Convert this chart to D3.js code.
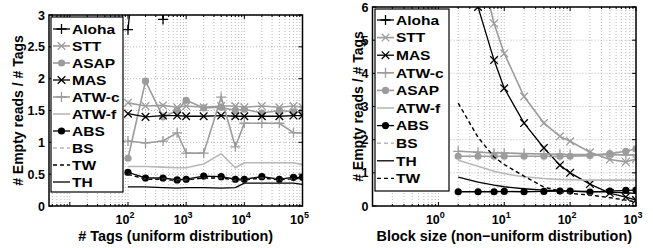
<!DOCTYPE html>
<html><head><meta charset="utf-8">
<script src="https://cdn.jsdelivr.net/npm/d3@7"></script>
<style>body{margin:0;background:#fff}svg{display:block}text{font-family:"Liberation Sans",Arial,Helvetica,sans-serif;font-weight:bold}</style>
</head><body><svg id="c" width="653" height="248"></svg>
<script>
// ---------- data ----------
const leftX = [100,200,400,700,1000,2000,4000,7000,10000,20000,40000,70000,100000];
const leftAloha = [2.77,5.5,2.93,5.5,6,6,6,6,6,6,6,6,6];
const leftSTT   = [1.62,1.57,1.58,1.55,1.57,1.55,1.57,1.57,1.55,1.57,1.55,1.57,1.55];
const leftASAP  = [0.75,1.96,1.40,1.50,1.66,1.54,1.55,1.50,1.52,1.46,1.50,1.48,1.48];
const leftMAS   = [1.45,1.40,1.42,1.42,1.41,1.41,1.42,1.41,1.41,1.41,1.41,1.42,1.42];
const leftATWc  = [1.02,0.99,1.02,1.15,0.83,0.83,1.71,0.93,1.30,1.30,1.30,1.15,1.15];
const leftATWf  = [0.62,0.62,0.61,0.60,0.60,0.66,0.82,0.60,0.68,0.68,0.68,0.68,0.65];
const leftABS   = [0.53,0.44,0.44,0.41,0.42,0.47,0.46,0.42,0.42,0.46,0.42,0.45,0.45];
const leftBS    = [0.50,0.42,0.42,0.40,0.41,0.44,0.44,0.41,0.41,0.44,0.41,0.43,0.43];
const leftTW    = [0.50,0.42,0.42,0.40,0.41,0.44,0.44,0.41,0.41,0.44,0.41,0.43,0.43];
const leftTH    = [0.30,0.30,0.29,0.28,0.29,0.29,0.28,0.29,0.36,0.36,0.36,0.36,0.34];
const leftYTicks = [0,0.5,1,1.5,2,2.5,3];
const leftXTicks = [2,3,4,5];  // exponents
const leftOrder = ["Aloha","STT","ASAP","MAS","ATW-c","ATW-f","ABS","BS","TW","TH"];

const rightX = [2,4,7,10,20,40,70,100,200,400,700,1000];
const rightAloha = [30,25,20,18,15,12,10,9,8,7.5,7,6.8];
const rightSTT   = [9.5,7.5,5.5,4.6,3.3,2.5,2.1,1.95,1.62,1.40,1.33,1.42];
const rightMAS   = [8.5,6.0,4.4,3.55,2.5,1.75,1.23,1.0,0.66,0.39,0.27,0.18];
const rightATWc  = [1.65,1.62,1.60,1.60,1.58,1.57,1.56,1.55,1.55,1.55,1.54,1.54];
const rightASAP  = [1.50,1.50,1.50,1.50,1.50,1.50,1.50,1.50,1.52,1.58,1.65,1.72];
const rightATWf  = [1.38,1.20,1.05,0.97,0.88,0.83,0.80,0.79,0.78,0.78,0.78,0.78];
const rightABS   = [0.43,0.43,0.43,0.44,0.43,0.44,0.45,0.45,0.42,0.45,0.47,0.48];
const rightBS    = [3.1,2.07,1.48,1.25,0.90,0.57,0.45,0.38,0.33,0.25,0.18,0.12];
const rightTH    = [0.87,0.72,0.63,0.58,0.52,0.48,0.46,0.45,0.44,0.42,0.40,0.38];
const rightTW    = [3.1,2.07,1.48,1.25,0.90,0.57,0.45,0.38,0.33,0.25,0.18,0.12];
const rightYTicks = [0,1,2,3,4,5,6];
const rightXTicks = [0,1,2,3];
const rightOrder = ["Aloha","STT","MAS","ATW-c","ASAP","ATW-f","ABS","BS","TH","TW"];

// ---------- styles ----------
const GRAY = "#9c9c9c", LGRAY = "#b8b8b8";
const style = {
  "Aloha": {color:"#000", marker:"plus", dash:null, w:1.3},
  "STT":   {color:GRAY, marker:"x", dash:null, w:1.6},
  "ASAP":  {color:GRAY, marker:"circle", dash:null, w:1.6},
  "MAS":   {color:"#000", marker:"x", dash:null, w:1.3},
  "ATW-c": {color:GRAY, marker:"plus", dash:null, w:1.6},
  "ATW-f": {color:LGRAY, marker:null, dash:null, w:1.6},
  "ABS":   {color:"#000", marker:"circle", dash:null, w:1.3},
  "BS":    {color:LGRAY, marker:null, dash:"4,3", w:1.4},
  "TW":    {color:"#000", marker:null, dash:"4,3", w:1.3},
  "TH":    {color:"#000", marker:null, dash:null, w:1.3}
};

const svg = d3.select("#c");

function drawMarker(g, type, x, y, color){
  if(type==="plus"){
    const s=5;
    g.append("path").attr("d",`M${x-s},${y}H${x+s}M${x},${y-s}V${y+s}`).attr("stroke",color).attr("stroke-width",1.3).attr("fill","none");
  } else if(type==="x"){
    const s=3.8;
    g.append("path").attr("d",`M${x-s},${y-s}L${x+s},${y+s}M${x-s},${y+s}L${x+s},${y-s}`).attr("stroke",color).attr("stroke-width",1.3).attr("fill","none");
  } else if(type==="circle"){
    g.append("circle").attr("cx",x).attr("cy",y).attr("r",3.6).attr("fill",color);
  }
}

function panel(cfg){
  const {id, xs, series, order, xDom, xRange, yDom, yRange, yTicks, xExps, yFmt, xLabel, yLabelX, legend} = cfg;
  const x = d3.scaleLog().domain(xDom).range(xRange);
  const y = d3.scaleLinear().domain(yDom).range(yRange);
  const g = svg.append("g");
  const [x0,x1] = xRange, [yb,yt] = yRange;

  // grid
  const gridG = g.append("g").attr("stroke","#a8a8a8").attr("stroke-width",0.8).attr("stroke-dasharray","1,2");
  const minorX = [];
  const lo = Math.floor(Math.log10(xDom[0])), hi = Math.ceil(Math.log10(xDom[1]));
  for(let e=lo;e<=hi;e++) for(let m=1;m<10;m++){ const v=m*Math.pow(10,e); if(v>=xDom[0]&&v<=xDom[1]) minorX.push(v); }
  minorX.forEach(v=>gridG.append("line").attr("x1",x(v)).attr("x2",x(v)).attr("y1",yb).attr("y2",yt));
  yTicks.forEach(v=>gridG.append("line").attr("x1",x0).attr("x2",x1).attr("y1",y(v)).attr("y2",y(v)));

  // clip
  svg.append("clipPath").attr("id","clip"+id).append("rect").attr("x",x0).attr("y",yt).attr("width",x1-x0).attr("height",yb-yt);
  const plot = g.append("g").attr("clip-path",`url(#clip${id})`);
  const line = d3.line().x((d,i)=>x(xs[i])).y(d=>y(d));
  order.forEach(name=>{
    const st = style[name], vals = series[name];
    const sg = plot.append("g");
    sg.append("path").attr("d",line(vals)).attr("fill","none").attr("stroke",st.color)
      .attr("stroke-width",st.w).attr("stroke-dasharray",st.dash);
    if(st.marker) vals.forEach((v,i)=>drawMarker(sg, st.marker, x(xs[i]), y(v), st.color));
  });

  // box + ticks
  g.append("rect").attr("x",x0).attr("y",yt).attr("width",x1-x0).attr("height",yb-yt).attr("fill","none").attr("stroke","#000").attr("stroke-width",1.5);
  const tk = g.append("g").attr("stroke","#000").attr("stroke-width",1);
  yTicks.forEach(v=>{
    tk.append("line").attr("x1",x0).attr("x2",x0+4).attr("y1",y(v)).attr("y2",y(v));
    tk.append("line").attr("x1",x1).attr("x2",x1-4).attr("y1",y(v)).attr("y2",y(v));
  });
  minorX.forEach(v=>{
    const major = Math.abs(Math.log10(v)-Math.round(Math.log10(v)))<1e-9;
    const L = major?4:2;
    tk.append("line").attr("x1",x(v)).attr("x2",x(v)).attr("y1",yb).attr("y2",yb-L);
    tk.append("line").attr("x1",x(v)).attr("x2",x(v)).attr("y1",yt).attr("y2",yt+L);
  });

  // tick labels
  yTicks.forEach(v=>g.append("text").attr("x",x0-4).attr("y",y(v)).attr("dy","0.36em").attr("text-anchor","end").attr("font-size",12.5).text(yFmt(v)));
  xExps.forEach(e=>{
    const t = g.append("text").attr("x",x(Math.pow(10,e))-3).attr("y",yb+17.5).attr("text-anchor","middle").attr("font-size",12.5);
    t.append("tspan").text("10");
    t.append("tspan").attr("dy",-6).attr("font-size",9).text(String(e));
  });
  // axis labels
  g.append("text").attr("x",(x0+x1)/2).attr("y",240.5).attr("text-anchor","middle").attr("font-size",14.4).text(xLabel);
  g.append("text").attr("transform",`translate(${yLabelX},${(yb+yt)/2}) rotate(-90)`).attr("text-anchor","middle").attr("font-size",14).text("# Empty reads / # Tags");

  // legend
  const lg = g.append("g");
  lg.append("rect").attr("x",legend.x).attr("y",legend.y).attr("width",legend.w).attr("height",legend.h).attr("fill","#fff").attr("stroke","#000").attr("stroke-width",1.2);
  order.forEach((name,i)=>{
    const st = style[name];
    const cy = legend.y + legend.top + i*legend.step;
    lg.append("line").attr("x1",legend.x+2).attr("x2",legend.x+19).attr("y1",cy).attr("y2",cy)
      .attr("stroke",st.color).attr("stroke-width",st.w).attr("stroke-dasharray",st.dash);
    if(st.marker) drawMarker(lg, st.marker, legend.x+10.5, cy, st.color);
    lg.append("text").attr("transform",`translate(${legend.x+21},${cy}) scale(1.15,1)`).attr("dy","0.36em").attr("font-size",13.5).text(name);
  });
}

panel({
  id:"L", xs:leftX,
  series:{"Aloha":leftAloha,"STT":leftSTT,"ASAP":leftASAP,"MAS":leftMAS,"ATW-c":leftATWc,"ATW-f":leftATWf,"ABS":leftABS,"BS":leftBS,"TW":leftTW,"TH":leftTH},
  order:leftOrder, xDom:[Math.pow(10,0.642),1e5], xRange:[49,302.5], yDom:[0,3], yRange:[206,15],
  yTicks:leftYTicks, xExps:leftXTicks, yFmt:d=>String(d), xLabel:"# Tags (uniform distribution)", yLabelX:23,
  legend:{x:51,y:17,w:72,h:175,top:12,step:17}
});
panel({
  id:"R", xs:rightX,
  series:{"Aloha":rightAloha,"STT":rightSTT,"ASAP":rightASAP,"MAS":rightMAS,"ATW-c":rightATWc,"ATW-f":rightATWf,"ABS":rightABS,"BS":rightBS,"TW":rightTW,"TH":rightTH},
  order:rightOrder, xDom:[0.1,1000], xRange:[372.5,636], yDom:[0,6], yRange:[206,7],
  yTicks:rightYTicks, xExps:rightXTicks, yFmt:d=>String(d), xLabel:"Block size (non\u2212uniform distribution)", yLabelX:363,
  legend:{x:375,y:9,w:74,h:182,top:11,step:17.6}
});
</script></body></html>
